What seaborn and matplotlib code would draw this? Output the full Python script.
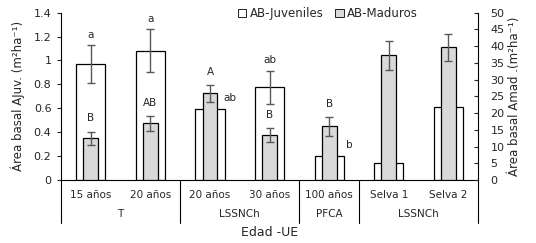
# Área basal de juveniles y maduros por edad y unidad ecológica
import numpy as np
import pandas as pd
import matplotlib
matplotlib.use("Agg")
import matplotlib.pyplot as plt
import seaborn as sns

# Datos
edades = ["15 años", "20 años", "20 años", "30 años", "100 años", "Selva 1", "Selva 2"]
grupos = ["T", "T", "LSSNCh", "LSSNCh", "PFCA", "LSSNCh", "LSSNCh"]
juveniles = [0.97, 1.08, 0.594, 0.775, 0.20, 0.14, 0.61]
err_juveniles = [0.16, 0.18, np.nan, 0.14, np.nan, np.nan, np.nan]
maduros = [12.5, 16.9, 25.9, 13.4, 16.0, 37.3, 39.6]
err_maduros = [2.0, 2.1, 2.5, 2.0, 2.7, 4.3, 4.0]
letras_juv = ["a", "a", "ab", "ab", "b", "", ""]
letras_mad = ["B", "AB", "A", "B", "B", "", ""]

claves = [f"{g}|{e}" for g, e in zip(grupos, edades)]
df = pd.DataFrame({"clave": claves, "juv": juveniles, "mad": maduros})

sns.set_style("ticks")
plt.rcParams["font.family"] = ["DejaVu Sans"]

fig, ax = plt.subplots(figsize=(5.36, 2.43), dpi=100)
fig.subplots_adjust(left=0.114, right=0.892, top=0.948, bottom=0.259)
ax2 = ax.twinx()

gris_err = "#595959"

# Barras de juveniles (eje izquierdo)
sns.barplot(data=df, x="clave", y="juv", order=claves, ax=ax, color="white",
            edgecolor="black", linewidth=0.9, width=0.49, errorbar=None,
            label="AB-Juveniles", legend=False)
ax.errorbar(np.arange(len(claves)), juveniles, yerr=err_juveniles, fmt="none",
            ecolor=gris_err, elinewidth=1, capsize=3, capthick=1)

# Barras de maduros (eje derecho)
sns.barplot(data=df, x="clave", y="mad", order=claves, ax=ax2, color="#d9d9d9",
            edgecolor="black", linewidth=0.9, width=0.25, errorbar=None,
            label="AB-Maduros", legend=False)
ax2.errorbar(np.arange(len(claves)), maduros, yerr=err_maduros, fmt="none",
             ecolor=gris_err, elinewidth=1, capsize=3, capthick=1)

ax.set_ylim(0, 1.4)
ax.set_yticks(np.arange(0, 1.41, 0.2))
ax.yaxis.set_major_formatter(matplotlib.ticker.FuncFormatter(lambda v, p: f"{v:g}"))
ax2.set_ylim(0, 50)
ax2.set_yticks(np.arange(0, 51, 5))
ax.set_xlim(-0.5, len(claves) - 0.5)

# Letras de significancia
for i, l in enumerate(letras_juv):
    if not l:
        continue
    if np.isnan(err_juveniles[i]):
        ax.text(i + 0.33, juveniles[i] + 0.09, l, ha="center", va="center", fontsize=7.5)
    else:
        ax.text(i, juveniles[i] + err_juveniles[i] + 0.085, l, ha="center", va="center", fontsize=7.5)
for i, l in enumerate(letras_mad):
    if l:
        ax2.text(i, maduros[i] + err_maduros[i] + 3.9, l, ha="center", va="center", fontsize=7.5)

# Ejes y etiquetas
ax.set_xticks(range(len(claves)))
ax.set_xticklabels(edades, fontsize=7.5)
ax.tick_params(axis="x", length=0, pad=7)
ax.tick_params(axis="y", direction="out", length=3, width=0.8, labelsize=8, pad=4)
ax2.tick_params(axis="y", direction="in", length=3, width=0.8, labelsize=8, pad=9)
ax.set_xlabel("Edad -UE", fontsize=9, labelpad=19)
ax.set_ylabel("Área basal AJuv. (m²ha⁻¹)", fontsize=8.5, labelpad=6)
ax2.set_ylabel("Área basal Amad .(m²ha⁻¹)", fontsize=8.5, labelpad=2)

for a in (ax, ax2):
    for s in a.spines.values():
        s.set_visible(False)
        s.set_color("black")
        s.set_linewidth(0.8)
ax.spines["left"].set_visible(True)
ax.spines["bottom"].set_visible(True)
ax2.spines["right"].set_visible(True)

# Líneas de separación de grupos y etiquetas de grupo
trans = ax.get_xaxis_transform()
limites = [-0.5]
for i in range(1, len(grupos)):
    if grupos[i] != grupos[i - 1] or (grupos[i] == "LSSNCh" and edades[i] == "Selva 1"):
        limites.append(i - 0.5)
limites.append(len(grupos) - 0.5)
for x in limites:
    ax.plot([x, x], [0, -0.257], transform=trans, color="black", lw=0.8, clip_on=False)
for a, b in zip(limites[:-1], limites[1:]):
    ax.text((a + b) / 2, -0.2, grupos[int(a + 0.5)], transform=trans,
            ha="center", va="center", fontsize=7.5)

# Leyenda
h1, l1 = ax.get_legend_handles_labels()
h2, l2 = ax2.get_legend_handles_labels()
leg = ax2.legend(h1 + h2, l1 + l2, loc="center", bbox_to_anchor=(0.64, 0.995), ncol=2,
                 frameon=False, fontsize=8.5, handlelength=0.7, handleheight=0.7,
                 handletextpad=0.3, columnspacing=1.0, borderaxespad=0)
for h in leg.legend_handles:
    h.set_linewidth(0.6)

fig.savefig("out.png", dpi=100)
